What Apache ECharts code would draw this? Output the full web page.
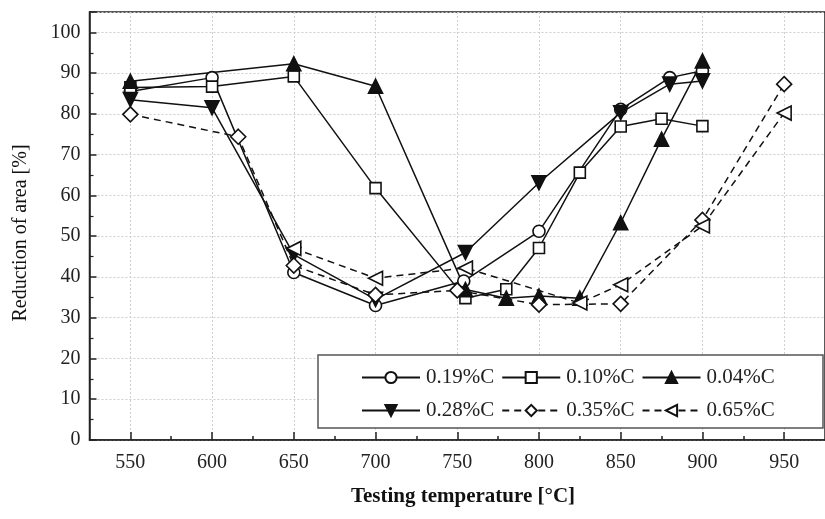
<!DOCTYPE html>
<html><head><meta charset="utf-8">
<script src="https://cdn.jsdelivr.net/npm/echarts@6/dist/echarts.min.js"></script>
<style>html,body{margin:0;padding:0;background:#fff}#c{width:825px;height:519px}</style>
</head><body><div id="c"></div>
<script>
// Data (temperature °C, reduction of area %)
const c019 = [[550,85.5],[600,88.9],[650,41.1],[700,33],[754,39],[800,51.2],[850,81.1],[880,88.9],[900,90.6]];
const c010 = [[550,86.5],[600,86.7],[650,89.2],[700,61.8],[755,34.8],[780,37],[800,47.1],[825,65.6],[850,76.9],[875,78.8],[900,77]];
const c004 = [[550,88],[650,92.3],[700,86.8],[755,36.9],[780,34.8],[800,35.3],[825,34.8],[850,53.3],[875,73.8],[900,93]];
const c028 = [[550,83.5],[600,81.5],[650,45.5],[700,34.5],[755,46],[800,63.1],[850,80.3],[880,87.3],[900,88.1]];
const c035 = [[550,79.9],[616,74.4],[650,42.8],[700,35.6],[750,36.7],[800,33.2],[850,33.4],[900,54],[950,87.3]];
const c065 = [[650,47],[700,39.7],[755,42.2],[825,33.6],[850,38.1],[900,52.5],[950,80.2]];
const names = ['0.19%C','0.10%C','0.04%C','0.28%C','0.35%C','0.65%C'];
const xMajor = [550,600,650,700,750,800,850,900,950];
const xMinor = [575,625,675,725,775,825,875,925];

const FONT = '"Liberation Serif", "DejaVu Serif", serif';
const BLK = '#111';
const diamond = 'path://M0,-1L1,0L0,1L-1,0Z';

function mk(name, data, symbol, size, filled, rot, dashed){
  return {
    name, type:'line', data, symbol, symbolSize:size, symbolRotate:rot||0,
    lineStyle:{color:BLK, width:1.5, type: dashed ? [7,5] : 'solid'},
    itemStyle:{color: filled ? BLK : '#fff', borderColor:BLK, borderWidth:1.6},
    emphasis:{disabled:true}, animation:false, z:2
  };
}

const chart = echarts.init(document.getElementById('c'), null, {renderer:'canvas'});
chart.setOption({
  animation:false,
  backgroundColor:'#fff',
  grid:{left:89.5, top:12, right:-11, bottom:79, show:true, borderColor:'#222', borderWidth:1.5, containLabel:false},
  xAxis:[{
    type:'value', min:525, max:975, interval:25,
    axisLine:{lineStyle:{color:'#222', width:1.5}},
    axisTick:{show:true, inside:true, length:8, customValues:xMajor, lineStyle:{color:'#222', width:1.5}},
    axisLabel:{customValues:xMajor, fontFamily:FONT, fontSize:20, color:'#222', margin:13},
    splitLine:{show:true, lineStyle:{color:'#cfcfcf', type:[2,2], width:1}}
  },{
    type:'value', min:525, max:975, position:'bottom', gridIndex:0,
    axisLine:{show:false},
    axisTick:{show:true, inside:true, length:4, customValues:xMinor, lineStyle:{color:'#222', width:1.5}},
    axisLabel:{show:false}, splitLine:{show:false}
  }],
  yAxis:{
    type:'value', min:0, max:105, interval:10,
    axisLine:{show:true, lineStyle:{color:'#222', width:1.5}},
    axisTick:{show:true, inside:true, length:7, lineStyle:{color:'#222', width:1.5}},
    minorTick:{show:true, splitNumber:2, length:4, lineStyle:{color:'#222', width:1.2}},
    axisLabel:{fontFamily:FONT, fontSize:20, color:'#222', margin:9, showMaxLabel:false,
      formatter: v => (v % 10 === 0 ? String(v) : '')},
    splitLine:{show:true, lineStyle:{color:'#cfcfcf', type:[2,2], width:1}}
  },
  legend:[{
    data:names.slice(0,3), left:361, top:367, padding:0, itemGap:7, itemWidth:58, itemHeight:14,
    textStyle:{fontFamily:FONT, fontSize:21, color:'#222', padding:[0,0,0,1]}, z:5, selectedMode:false
  },{
    data:names.slice(3), left:361, top:400, padding:0, itemGap:7, itemWidth:58, itemHeight:14,
    textStyle:{fontFamily:FONT, fontSize:21, color:'#222', padding:[0,0,0,1]}, z:5, selectedMode:false
  }],
  graphic:[
    {type:'rect', z:4, shape:{x:318, y:355, width:505, height:73}, style:{fill:'#fff', stroke:'#555', lineWidth:1.5}},
    {type:'text', z:5, x:463, y:497, style:{text:'Testing temperature [°C]', font:'bold 21px '+FONT, fill:'#111', textAlign:'center', textVerticalAlign:'middle'}},
    {type:'text', z:5, x:21, y:233, rotation:Math.PI/2, style:{text:'Reduction of area [%]', font:'20px '+FONT, fill:'#111', textAlign:'center', textVerticalAlign:'middle'}}
  ],
  series:[
    mk(names[0], c019, 'circle', 12, false),
    mk(names[1], c010, 'rect', 11, false),
    mk(names[2], c004, 'triangle', 14, true),
    mk(names[3], c028, 'triangle', 14, true, 180),
    mk(names[4], c035, diamond, 15, false, 0, true),
    mk(names[5], c065, 'triangle', 14, false, 90, true)
  ]
});
</script></body></html>
